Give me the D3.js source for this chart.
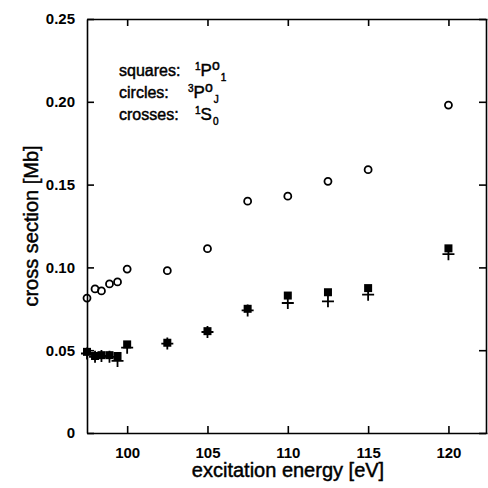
<!DOCTYPE html>
<html>
<head>
<meta charset="utf-8">
<script src="https://cdn.jsdelivr.net/npm/d3@7"></script>
<style>
  body { margin: 0; background: #fff; }
  text { font-family: "Liberation Sans", Arial, sans-serif; fill: #000; }
  .heavy { stroke: #000; stroke-width: 0.45px; }
</style>
</head>
<body>
<svg id="chart"></svg>
<script>
const SVG_WIDTH = 488;
const SVG_HEIGHT = 488;

// Values.
const circleEnergy = [97.5, 98.0, 98.4, 98.9, 99.4, 100, 102.5, 105, 107.5, 110, 112.5, 115, 120];
const circleValue = [0.0815, 0.087, 0.0858, 0.090, 0.0912, 0.099, 0.098, 0.1113, 0.140, 0.143, 0.152, 0.159, 0.198];

const squareEnergy = [97.5, 98.0, 98.4, 98.9, 99.4, 100, 102.5, 105, 107.5, 110, 112.5, 115, 120];
const squareValue = [0.049, 0.0465, 0.047, 0.047, 0.0465, 0.0535, 0.0545, 0.0615, 0.075, 0.083, 0.085, 0.0875, 0.1115];

const crossEnergy = [97.5, 98.0, 98.4, 98.9, 99.4, 100, 102.5, 105, 107.5, 110, 112.5, 115, 120];
const crossValue = [0.048, 0.046, 0.0465, 0.046, 0.0435, 0.0515, 0.054, 0.061, 0.074, 0.0785, 0.0795, 0.0835, 0.108];

const xTicks = [100, 105, 110, 115, 120];
const yTicks = [0, 0.05, 0.10, 0.15, 0.20, 0.25];

const margin = {top: 19, right: 1, bottom: 55, left: 87};

const svg = d3.select('#chart')
  .attr('width', SVG_WIDTH)
  .attr('height', SVG_HEIGHT);

const x = d3.scaleLinear()
  .domain([97.5, 122.4])
  .range([margin.left, SVG_WIDTH - margin.right]);

const y = d3.scaleLinear()
  .domain([0, 0.25])
  .range([SVG_HEIGHT - margin.bottom, margin.top]);

const fmtY = d => d === 0 ? '0' : d3.format('.2f')(d);

// Axes: ticks point inward on all four sides.
svg.append('g')
  .attr('transform', `translate(0,${y(0)})`)
  .call(d3.axisBottom(x).tickValues(xTicks).tickSizeInner(-7).tickSizeOuter(0).tickPadding(14))
  .call(g => g.selectAll('text').attr('font-size', 15).attr('font-weight', 'bold'));

svg.append('g')
  .attr('transform', `translate(0,${y(0.25)})`)
  .call(d3.axisTop(x).tickValues(xTicks).tickSizeInner(-7).tickSizeOuter(0).tickFormat(''));

svg.append('g')
  .attr('transform', `translate(${x.range()[0]},0)`)
  .call(d3.axisLeft(y).tickValues(yTicks).tickSizeInner(-7).tickSizeOuter(0).tickPadding(12).tickFormat(fmtY))
  .call(g => g.selectAll('text').attr('font-size', 15).attr('font-weight', 'bold'));

svg.append('g')
  .attr('transform', `translate(${x.range()[1] - 1},0)`)
  .call(d3.axisRight(y).tickValues(yTicks).tickSizeInner(-7).tickSizeOuter(0).tickFormat(''));

svg.selectAll('.domain').attr('stroke-width', 1.6);
svg.selectAll('.tick line').attr('stroke-width', 1.6);

// Axis titles.
svg.append('text')
  .attr('class', 'heavy')
  .attr('x', 288)
  .attr('y', 477)
  .attr('text-anchor', 'middle')
  .attr('font-size', 20)
  .text('excitation energy [eV]');

svg.append('text')
  .attr('class', 'heavy')
  .attr('transform', `translate(38,${(y(0) + y(0.25)) / 2}) rotate(-90)`)
  .attr('text-anchor', 'middle')
  .attr('font-size', 20)
  .text('cross section [Mb]');

// Crosses (1S0) drawn first, squares on top.
const crossPts = crossEnergy.map((e, i) => [e, crossValue[i]]);
const squarePts = squareEnergy.map((e, i) => [e, squareValue[i]]);
const circlePts = circleEnergy.map((e, i) => [e, circleValue[i]]);

svg.append('g').selectAll('path')
  .data(crossPts)
  .join('path')
  .attr('d', d => {
    const cx = x(d[0]), cy = y(d[1]), s = 6;
    return `M${cx - s},${cy}H${cx + s}M${cx},${cy - s}V${cy + s}`;
  })
  .attr('stroke', '#000')
  .attr('stroke-width', 1.8);

svg.append('g').selectAll('rect')
  .data(squarePts)
  .join('rect')
  .attr('x', d => x(d[0]) - 4)
  .attr('y', d => y(d[1]) - 4)
  .attr('width', 8)
  .attr('height', 8)
  .attr('fill', '#000');

svg.append('g').selectAll('circle')
  .data(circlePts)
  .join('circle')
  .attr('cx', d => x(d[0]))
  .attr('cy', d => y(d[1]))
  .attr('r', 3.5)
  .attr('fill', 'none')
  .attr('stroke', '#000')
  .attr('stroke-width', 1.8);

// Legend.
const legend = svg.append('g').attr('font-size', 16).attr('class', 'heavy');
const rows = [
  {label: 'squares:', sup: '1', term: 'P', sup2: 'o', sub: '1', tx: 195},
  {label: 'circles:', sup: '3', term: 'P', sup2: 'o', sub: 'J', tx: 188},
  {label: 'crosses:', sup: '1', term: 'S', sup2: '', sub: '0', tx: 195}
];
rows.forEach((r, i) => {
  const by = 76 + i * 22;
  legend.append('text').attr('x', 119).attr('y', by).text(r.label);
  const t = legend.append('text').attr('x', r.tx).attr('y', by);
  t.append('tspan').attr('font-size', 10).attr('dy', -6).text(r.sup);
  t.append('tspan').attr('font-size', 17).attr('dy', 6).text(r.term);
  if (r.sup2) t.append('tspan').attr('font-size', 14).attr('dy', -6).text(r.sup2);
  t.append('tspan').attr('font-size', 10).attr('dy', r.sup2 ? 11 : 5).attr('dx', 1).text(r.sub);
});
</script>
</body>
</html>
